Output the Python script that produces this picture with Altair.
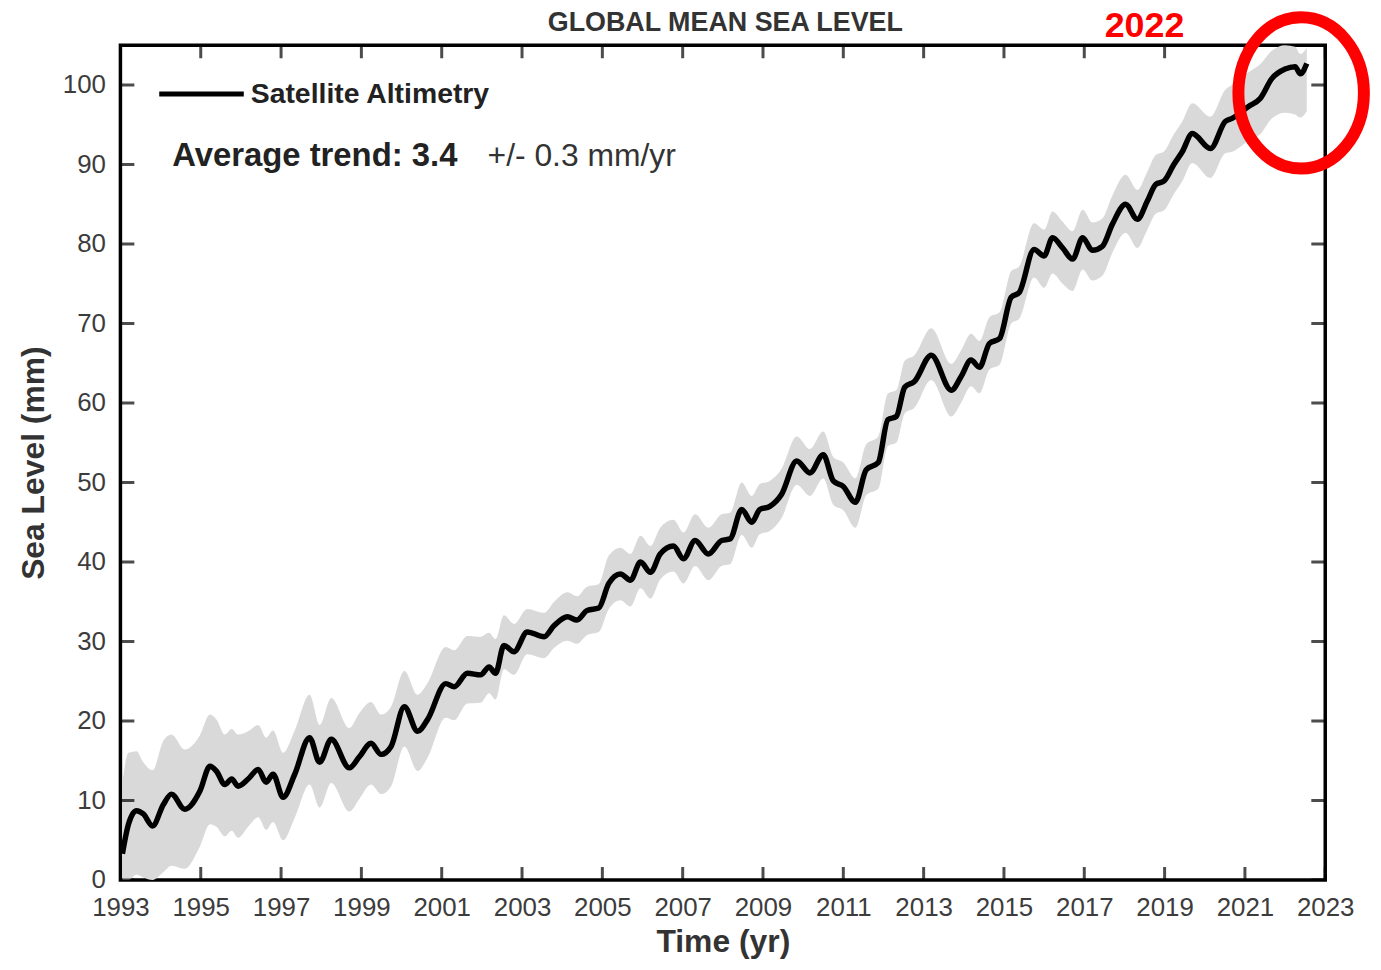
import altair as alt
import pandas as pd

# ---- data ----
years = [1993.05, 1993.2, 1993.4, 1993.57, 1993.8, 1994.07, 1994.27, 1994.6, 1994.98, 1995.23,
         1995.39, 1995.6, 1995.77, 1995.93, 1996.18, 1996.43, 1996.63, 1996.8, 1997.05, 1997.34,
         1997.71, 1997.96, 1998.25, 1998.7, 1998.95, 1999.24, 1999.49, 1999.74, 2000.07, 2000.4,
         2000.65, 2001.1, 2001.31, 2001.64, 2001.97, 2002.18, 2002.34, 2002.55, 2002.8, 2003.13,
         2003.55, 2003.8, 2004.13, 2004.37, 2004.62, 2004.91, 2005.16, 2005.45, 2005.7, 2005.95,
         2006.2, 2006.44, 2006.77, 2007.02, 2007.31, 2007.64, 2007.97, 2008.18, 2008.47, 2008.72,
         2008.92, 2009.17, 2009.46, 2009.84, 2010.17, 2010.5, 2010.75, 2011.0, 2011.3, 2011.57,
         2011.87, 2012.11, 2012.32, 2012.53, 2012.77, 2013.19, 2013.69, 2013.93, 2014.18, 2014.39,
         2014.64, 2014.89, 2015.18, 2015.38, 2015.75, 2016.0, 2016.21, 2016.46, 2016.71, 2016.96,
         2017.2, 2017.45, 2017.7, 2018.03, 2018.32, 2018.57, 2018.78, 2018.98, 2019.23, 2019.44,
         2019.69, 2020.14, 2020.51, 2020.68, 2021.09, 2021.38, 2021.67, 2022.0, 2022.25, 2022.38,
         2022.54]
sea_level = [3.3, 7.0, 8.7, 8.3, 6.8, 9.5, 10.8, 8.9, 11.2, 14.3,
             13.7, 12.0, 12.7, 11.8, 12.7, 13.9, 12.3, 13.3, 10.4, 13.3,
             17.9, 14.8, 17.7, 14.1, 15.5, 17.2, 15.8, 16.8, 21.8, 18.7,
             20.2, 24.7, 24.3, 26.0, 25.8, 26.8, 26.0, 29.5, 28.7, 31.2,
             30.6, 32.0, 33.1, 32.7, 33.9, 34.2, 37.3, 38.5, 37.7, 40.0,
             38.7, 41.0, 42.0, 40.4, 42.7, 41.0, 42.7, 42.9, 46.6, 45.0,
             46.6, 47.0, 48.5, 52.7, 51.2, 53.5, 50.2, 49.5, 47.5, 51.6,
             52.5, 57.9, 58.3, 62.0, 62.7, 66.0, 61.6, 63.3, 65.4, 64.5,
             67.5, 68.1, 73.3, 73.9, 79.3, 78.5, 80.8, 79.5, 78.1, 80.8,
             79.2, 79.7, 82.5, 85.0, 83.1, 85.4, 87.5, 87.9, 90.0, 91.6,
             93.9, 92.0, 95.4, 95.8, 97.3, 98.3, 100.8, 102.0, 102.3, 101.4,
             102.7]
err_up = [9, 9, 7.5, 6.5, 7, 8, 7.5, 7.5, 7, 6.5,
          6.5, 6.3, 6.3, 6.5, 6, 5.6, 5.6, 5.5, 5.6, 5.5,
          5.4, 4.7, 5.2, 5, 5.5, 5.2, 5, 5, 4.5, 4.6,
          4.6, 4.6, 4.6, 4.7, 4.8, 4.3, 4.3, 3.8, 3.5, 2.9,
          3, 3, 3.1, 3, 3, 3, 3.5, 3.3, 3.3, 3.3,
          3.3, 3.3, 3.3, 3.3, 3.3, 3.3, 3.3, 3.3, 3.4, 3.3,
          3.2, 3.2, 3.2, 3.1, 3.0, 2.9, 3.0, 3.0, 3.0, 3.2,
          3.3, 3.3, 3.3, 3.3, 3.3, 3.4, 3.3, 3.3, 3.3, 3.3,
          3.3, 3.3, 3.3, 3.3, 3.3, 3.3, 3.3, 3.3, 3.5, 3.5,
          3.5, 3.5, 3.6, 3.7, 3.7, 3.7, 3.7, 3.7, 3.8, 3.8,
          3.8, 4.0, 4.0, 4.2, 4.3, 4.3, 3.5, 3, 2.5, 2.5,
          2]
err_dn = [3.3, 7, 8, 8, 6.8, 8.5, 9, 7.5, 7, 7.3,
          7, 6.5, 6.5, 6.5, 6, 6, 6, 6, 5.4, 5.5,
          5.9, 5.7, 5.5, 5.5, 5.3, 5.2, 5, 5, 5, 5,
          4.8, 4.3, 4.2, 3.8, 3.5, 3.3, 3.3, 3, 2.9, 2.8,
          2.7, 2.8, 3, 3, 3.1, 3, 3.2, 3.3, 3.3, 3.3,
          3.3, 3.2, 3.2, 3.1, 3.2, 3.3, 3.2, 3.2, 3.2, 3.2,
          3.1, 3.1, 3.0, 3.0, 2.9, 3.0, 3.0, 3.0, 3.2, 3.2,
          3.3, 3.3, 3.3, 3.3, 3.3, 3.1, 3.3, 3.3, 3.3, 3.3,
          3.3, 3.3, 3.3, 3.3, 3.5, 4, 4.5, 4.5, 4, 4,
          3.8, 3.7, 3.6, 3.6, 3.6, 3.6, 3.7, 3.7, 3.7, 3.7,
          3.7, 3.7, 4, 4.2, 4.3, 4.5, 5, 5.5, 6, 5.5,
          6]

x_tick_years = [1993, 1995, 1997, 1999, 2001, 2003, 2005, 2007, 2009, 2011,
                2013, 2015, 2017, 2019, 2021, 2023]
y_tick_values = [0, 10, 20, 30, 40, 50, 60, 70, 80, 90, 100]
x_domain = [1993, 2023]
y_domain = [0, 105]

highlight_year = [2022.4]
highlight_level = [99.0]
label_year = [2018.5]
label_level = [107.4]
label_text = ["2022"]

FONT = "Liberation Sans"

df = pd.DataFrame({"year": years, "level": sea_level, "up": err_up, "dn": err_dn})
df["lo"] = df["level"] - df["dn"]
df["hi"] = df["level"] + df["up"]

xs = alt.Scale(domain=x_domain, nice=False, zero=False)
ys = alt.Scale(domain=y_domain, nice=False, zero=True)

x_axis = alt.Axis(values=x_tick_years, format="d", title="Time (yr)", labelFontSize=26,
                  labelColor="#3c3c3c", labelFont=FONT, labelPadding=15, ticks=False,
                  labelOverlap=False, labelFlush=False,
                  domain=False, grid=False, titleFontSize=32, titleFont=FONT,
                  titleFontWeight="bold", titleColor="#333333", titlePadding=6)
y_axis = alt.Axis(values=y_tick_values, title="Sea Level (mm)", labelFontSize=26,
                  labelColor="#3c3c3c", labelFont=FONT, labelPadding=15, ticks=False,
                  labelOverlap=False, labelFlush=False,
                  domain=False, grid=False, titleFontSize=32, titleFont=FONT,
                  titleFontWeight="bold", titleColor="#333333", titlePadding=12)


def X(field):
    return alt.X(field, scale=xs, axis=x_axis, title="Time (yr)")


def Y(field):
    return alt.Y(field, scale=ys, axis=y_axis, title="Sea Level (mm)")


band = alt.Chart(df).mark_area(color="#d9d9d9", interpolate="monotone").encode(
    x=X("year:Q"), y=Y("lo:Q"), y2="hi:Q",
)

line = alt.Chart(df).mark_line(color="black", strokeWidth=5.5, interpolate="monotone").encode(
    x=X("year:Q"), y=Y("level:Q"),
)

# inward ticks on all four sides (clipped half-ticks)
xt = pd.DataFrame({"year": x_tick_years * 2,
                   "level": [y_domain[0]] * len(x_tick_years) + [y_domain[1]] * len(x_tick_years)})
yt = pd.DataFrame({"level": y_tick_values * 2,
                   "year": [x_domain[0]] * len(y_tick_values) + [x_domain[1]] * len(y_tick_values)})

xticks = alt.Chart(xt).mark_tick(clip=True, color="black", size=26, thickness=3,
                                 orient="vertical").encode(x=X("year:Q"), y=Y("level:Q"))
yticks = alt.Chart(yt).mark_tick(clip=True, color="black", size=28, thickness=3,
                                 orient="horizontal").encode(x=X("year:Q"), y=Y("level:Q"))

# title and legend-like annotations
title_text = alt.Chart(pd.DataFrame({"t": ["GLOBAL MEAN SEA LEVEL"]})).mark_text(
    align="center", baseline="middle", font=FONT, fontSize=27, fontWeight="bold",
    color="#333333").encode(x=alt.value(608), y=alt.value(-22), text="t:N")
leg_rule = alt.Chart(pd.DataFrame({"a": [0]})).mark_rule(color="black", strokeWidth=5).encode(
    x=alt.value(39), x2=alt.value(124), y=alt.value(49))
leg_text = alt.Chart(pd.DataFrame({"t": ["Satellite Altimetry"]})).mark_text(
    align="left", baseline="middle", font=FONT, fontSize=28.5, fontWeight="bold",
    color="#222222").encode(x=alt.value(131), y=alt.value(49), text="t:N")
trend_text = alt.Chart(pd.DataFrame({"t": ["Average trend: 3.4"]})).mark_text(
    align="left", baseline="middle", font=FONT, fontSize=33, fontWeight="bold",
    color="#222222").encode(x=alt.value(52), y=alt.value(111), text="t:N")
pm_text = alt.Chart(pd.DataFrame({"t": ["+/- 0.3 mm/yr"]})).mark_text(
    align="left", baseline="middle", font=FONT, fontSize=32, fontWeight="normal",
    color="#333333").encode(x=alt.value(369), y=alt.value(111), text="t:N")

hl = pd.DataFrame({"year": highlight_year, "level": highlight_level})
ellipse = alt.Chart(hl).mark_point(
    shape="M0,-1 A0.83,1 0 1,1 0,1 A0.83,1 0 1,1 0,-1 Z",
    size=23104, filled=False, stroke="#ff0000", strokeWidth=12, clip=False, opacity=1
).encode(x=X("year:Q"), y=Y("level:Q"))

lab = pd.DataFrame({"year": label_year, "level": label_level, "t": label_text})
year_label = alt.Chart(lab).mark_text(
    font=FONT, fontSize=36, fontWeight="bold", color="#ff0000", clip=False,
    align="center", baseline="middle").encode(
    x=X("year:Q"), y=Y("level:Q"), text="t:N")

chart = alt.layer(band, line, xticks, yticks, title_text, leg_rule, leg_text, trend_text,
                  pm_text, ellipse, year_label).properties(
    width=1211, height=839,
    autosize=alt.AutoSizeParams(type="none"),
    padding={"left": 113, "top": 35, "right": 48, "bottom": 79},
).configure(font=FONT).configure_view(stroke="black", strokeWidth=3.5)

chart.save("out.html", embed_options={"renderer": "svg", "actions": False})
